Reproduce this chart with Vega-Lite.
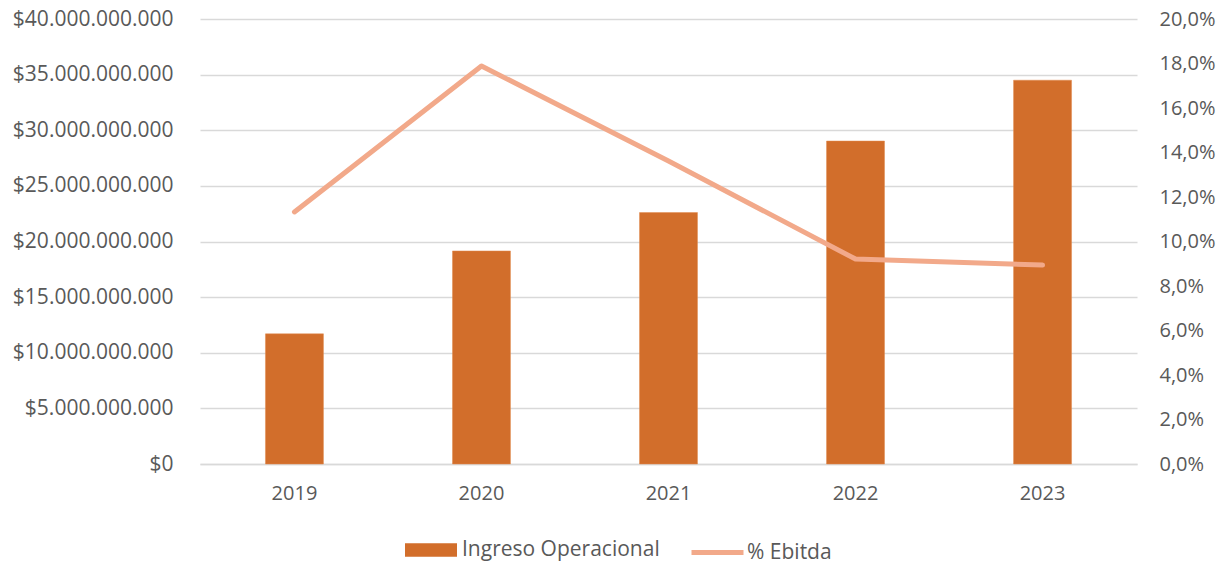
{
  "$schema": "https://vega.github.io/schema/vega-lite/v6.json",
  "width": 937,
  "height": 445,
  "autosize": {"type": "none"},
  "padding": {"left": 200, "top": 19, "right": 93, "bottom": 101},
  "background": "white",
  "data": {"values": [
    {"year": "2019", "ingreso": 11700000000, "ebitda": 0.1133},
    {"year": "2020", "ingreso": 19150000000, "ebitda": 0.1789},
    {"year": "2021", "ingreso": 22600000000, "ebitda": 0.1362},
    {"year": "2022", "ingreso": 29030000000, "ebitda": 0.0921},
    {"year": "2023", "ingreso": 34500000000, "ebitda": 0.0894}
  ]},
  "encoding": {
    "x": {"field": "year", "type": "ordinal", "scale": {"paddingInner": 0.69, "paddingOuter": 0.35},
      "axis": {"title": null, "labelAngle": 0, "ticks": false, "domain": true, "domainColor": "#D9D9D9", "domainWidth": 1.5, "labelPadding": 19, "grid": false}}
  },
  "layer": [
    {
      "mark": {"type": "bar", "stroke": "#E08A4F", "strokeWidth": 0.5},
      "encoding": {
        "y": {"field": "ingreso", "type": "quantitative", "scale": {"domain": [0, 40000000000]},
          "axis": {"title": null, "values": [0, 5000000000, 10000000000, 15000000000, 20000000000, 25000000000, 30000000000, 35000000000, 40000000000], "format": "$,.0f", "ticks": false, "domain": false, "labelPadding": 27, "labelFontSize": 21, "gridColor": "#D9D9D9", "gridWidth": 1.5}},
        "fill": {"datum": "Ingreso Operacional", "type": "nominal",
          "scale": {"domain": ["Ingreso Operacional"], "range": ["#D26E2B"]},
          "legend": {"title": null, "orient": "none", "legendX": 205, "legendY": 505,
            "symbolType": "M-1,-0.26H1V0.26H-1Z", "symbolSize": 2704, "symbolStrokeWidth": 0, "labelOffset": 5, "labelLimit": 400,
            "labelFontSize": 21, "labelColor": "#595959", "labelFont": "Open Sans"}}
      }
    },
    {
      "mark": {"type": "line", "strokeWidth": 5, "strokeCap": "round", "strokeJoin": "round"},
      "encoding": {
        "y": {"field": "ebitda", "type": "quantitative", "scale": {"domain": [0, 0.2]},
          "axis": {"title": null, "orient": "right", "values": [0, 0.02, 0.04, 0.06, 0.08, 0.1, 0.12, 0.14, 0.16, 0.18, 0.2], "format": ".1%", "ticks": false, "domain": false, "grid": false, "labelPadding": 22}},
        "stroke": {"datum": "% Ebitda", "type": "nominal",
          "scale": {"domain": ["% Ebitda"], "range": ["#F2A98A"]},
          "legend": {"title": null, "orient": "none", "legendX": 489, "legendY": 505,
            "symbolType": "stroke", "symbolSize": 2704, "symbolStrokeWidth": 5, "labelOffset": 1, "labelLimit": 400,
            "labelFontSize": 21, "labelColor": "#595959", "labelFont": "Open Sans"}}
      }
    }
  ],
  "resolve": {"scale": {"y": "independent"}},
  "config": {
    "locale": {"number": {"decimal": ",", "thousands": ".", "grouping": [3], "currency": ["$", ""]}},
    "font": "Open Sans",
    "view": {"stroke": null},
    "axis": {"labelFont": "Open Sans", "labelFontSize": 20, "labelColor": "#595959"}
  }
}
